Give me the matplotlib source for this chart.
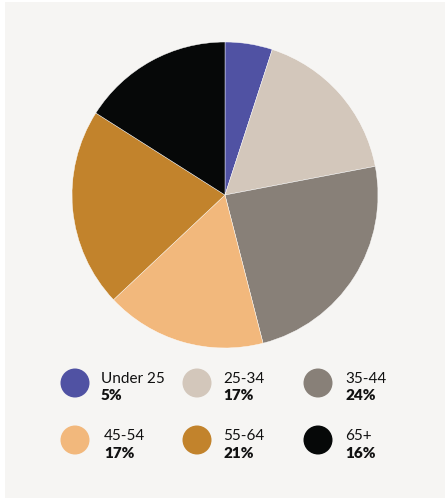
import matplotlib
matplotlib.use('Agg')
import matplotlib.pyplot as plt
from matplotlib.patches import Circle, Rectangle

# Age band share of respondents
labels = ['Under 25', '25-34', '35-44', '45-54', '55-64', '65+']
shares = [5, 17, 24, 17, 21, 16]
colors = ['#5052a3', '#d3c7bb', '#888078', '#f2b87c', '#c2832c', '#060808']

W, H = 445, 499
fig = plt.figure(figsize=(W / 100, H / 100), dpi=100, facecolor='white')

# background panel + legend layer in pixel coordinates
base = fig.add_axes([0, 0, 1, 1])
base.set_xlim(0, W)
base.set_ylim(H, 0)
base.axis('off')
base.add_patch(Rectangle((5, 2), W - 5, 496, facecolor='#f6f5f3', edgecolor='none'))

# pie
cx, cy, r = 225, 195, 153
pie_ax = fig.add_axes([(cx - r) / W, (H - cy - r) / H, 2 * r / W, 2 * r / H])
pie_ax.pie(shares, colors=colors, startangle=90, counterclock=False,
           radius=1.0, wedgeprops=dict(edgecolor='white', linewidth=0.3))
pie_ax.set_xlim(-1.0, 1.0)
pie_ax.set_ylim(-1.0, 1.0)
pie_ax.axis('off')

# legend grid: 3 columns x 2 rows
col_x = [75, 197, 318]
row_y = [383, 440]
text_dx = [26, 26, 27]
for i, (lab, val, col) in enumerate(zip(labels, shares, colors)):
    row, c = divmod(i, 3)
    x, y = col_x[c], row_y[row]
    base.add_patch(Circle((x, y), 14.5, facecolor=col, edgecolor='none'))
    tx = x + text_dx[c] + (3 if row == 1 and c == 0 else 0)
    base.text(tx, y - 4, lab, fontsize=11, family='Lato', color='#111111',
              ha='left', va='center')
    base.text(tx, y + 13, f'{val}%', fontsize=11, family='Lato', weight='heavy',
              color='#111111', ha='left', va='center')

fig.savefig('out.png', dpi=100)
